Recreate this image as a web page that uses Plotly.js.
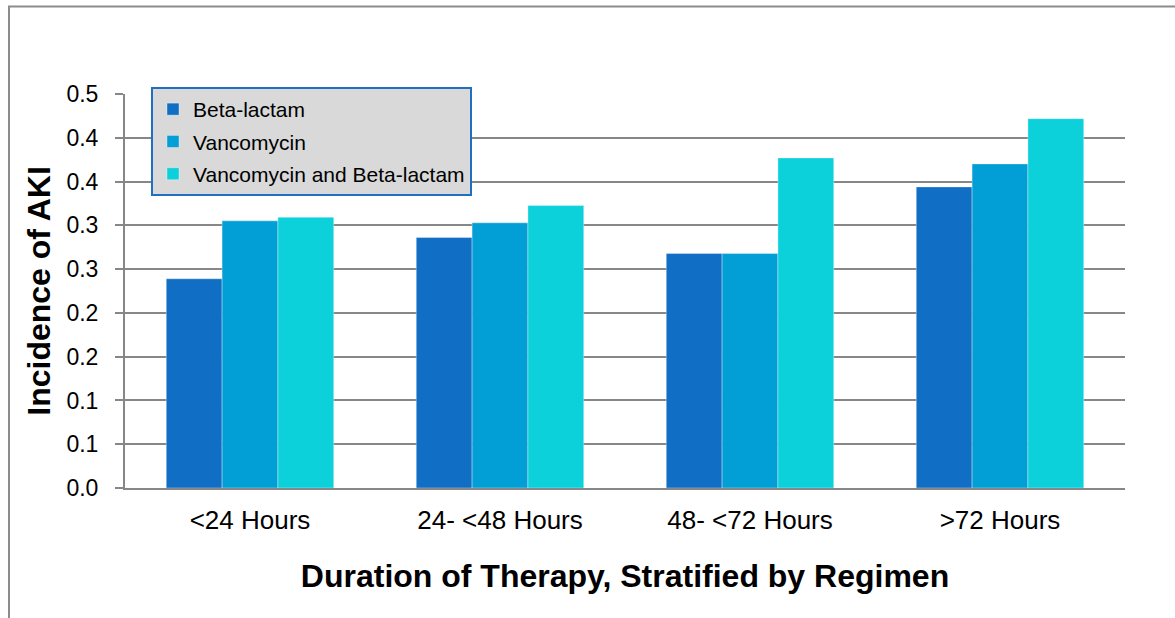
<!DOCTYPE html>
<html>
<head>
<meta charset="utf-8">
<script src="https://cdn.plot.ly/plotly-3.0.1.min.js"></script>
<style>
  html, body { margin: 0; padding: 0; background: #ffffff; }
  #chart { width: 1175px; height: 618px; }
</style>
</head>
<body>
<div id="chart"></div>
<script>
// ---- data ----
const categories = ['<24 Hours', '24- <48 Hours', '48- <72 Hours', '>72 Hours'];
const seriesNames = ['Beta-lactam', 'Vancomycin', 'Vancomycin and Beta-lactam'];
const betaLactam = [0.2655, 0.3178, 0.2975, 0.3821];
const vancomycin = [0.3390, 0.3365, 0.2975, 0.4113];
const vancoBeta  = [0.3436, 0.3584, 0.4189, 0.4687];
const yTickVals  = [0, 0.0556, 0.1111, 0.1667, 0.2222, 0.2778, 0.3333, 0.3889, 0.4444, 0.5];
const yTickText  = ['0.0', '0.1', '0.1', '0.2', '0.2', '0.3', '0.3', '0.4', '0.4', '0.5'];
const xTitle = 'Duration of Therapy, Stratified by Regimen';
const yTitle = 'Incidence of AKI';

const colors = ['#106EC5', '#029ED6', '#0CD0DA'];
const seriesValues = [betaLactam, vancomycin, vancoBeta];

const FONT = 'Liberation Sans, Arial, sans-serif';

const traces = seriesValues.map((vals, i) => ({
  type: 'bar',
  name: seriesNames[i],
  legendgroup: 'g' + i,
  x: categories,
  y: vals,
  marker: { color: colors[i], line: { color: 'rgba(255,255,255,0.35)', width: 1 } },
  hoverinfo: 'x+y+name'
}));

const gray = '#878787';

const layout = {
  width: 1175,
  height: 618,
  margin: { l: 125, r: 50, t: 94, b: 130 },
  paper_bgcolor: '#ffffff',
  plot_bgcolor: '#ffffff',
  font: { family: FONT, color: '#000000' },
  barmode: 'group',
  bargap: 0.33,
  bargroupgap: 0,
  showlegend: true,
  legend: {
    x: 0.026, y: 1.0178, xanchor: 'left', yanchor: 'top',
    bgcolor: '#D9D9D9',
    bordercolor: '#1F70C1',
    borderwidth: 2,
    font: { family: FONT, size: 21, color: '#000000' },
    tracegroupgap: 2,
    traceorder: 'grouped'
  },
  xaxis: {
    type: 'category',
    tickfont: { family: FONT, size: 26, color: '#000000' },
    ticks: '',
    ticklabelstandoff: 8,
    showline: true,
    linecolor: gray,
    linewidth: 2,
    showgrid: false,
    zeroline: false,
    title: { text: xTitle, font: { family: FONT, size: 32, color: '#000000', weight: 'bold' }, standoff: 30 }
  },
  yaxis: {
    range: [0, 0.5],
    tickmode: 'array',
    tickvals: yTickVals,
    ticktext: yTickText,
    tickfont: { family: FONT, size: 23, color: '#000000' },
    ticks: 'outside',
    ticklen: 8,
    tickwidth: 2,
    tickcolor: gray,
    ticklabelstandoff: 12,
    showline: true,
    linecolor: gray,
    linewidth: 2,
    showgrid: true,
    gridcolor: gray,
    gridwidth: 2,
    zeroline: false,
    title: { text: yTitle, font: { family: FONT, size: 32, color: '#000000', weight: 'bold' }, standoff: 6 }
  },
  shapes: [
    { type: 'line', xref: 'paper', yref: 'paper', x0: -0.116, x1: -0.116, y0: 1.2223, y1: -0.35,
      line: { color: '#8C8C8C', width: 2 }, layer: 'below' },
    { type: 'line', xref: 'paper', yref: 'paper', x0: -0.117, x1: 1.06, y0: 1.2223, y1: 1.2223,
      line: { color: '#8C8C8C', width: 2 }, layer: 'below' }
  ]
};

Plotly.newPlot('chart', traces, layout, { displayModeBar: false, staticPlot: false });
</script>
</body>
</html>
